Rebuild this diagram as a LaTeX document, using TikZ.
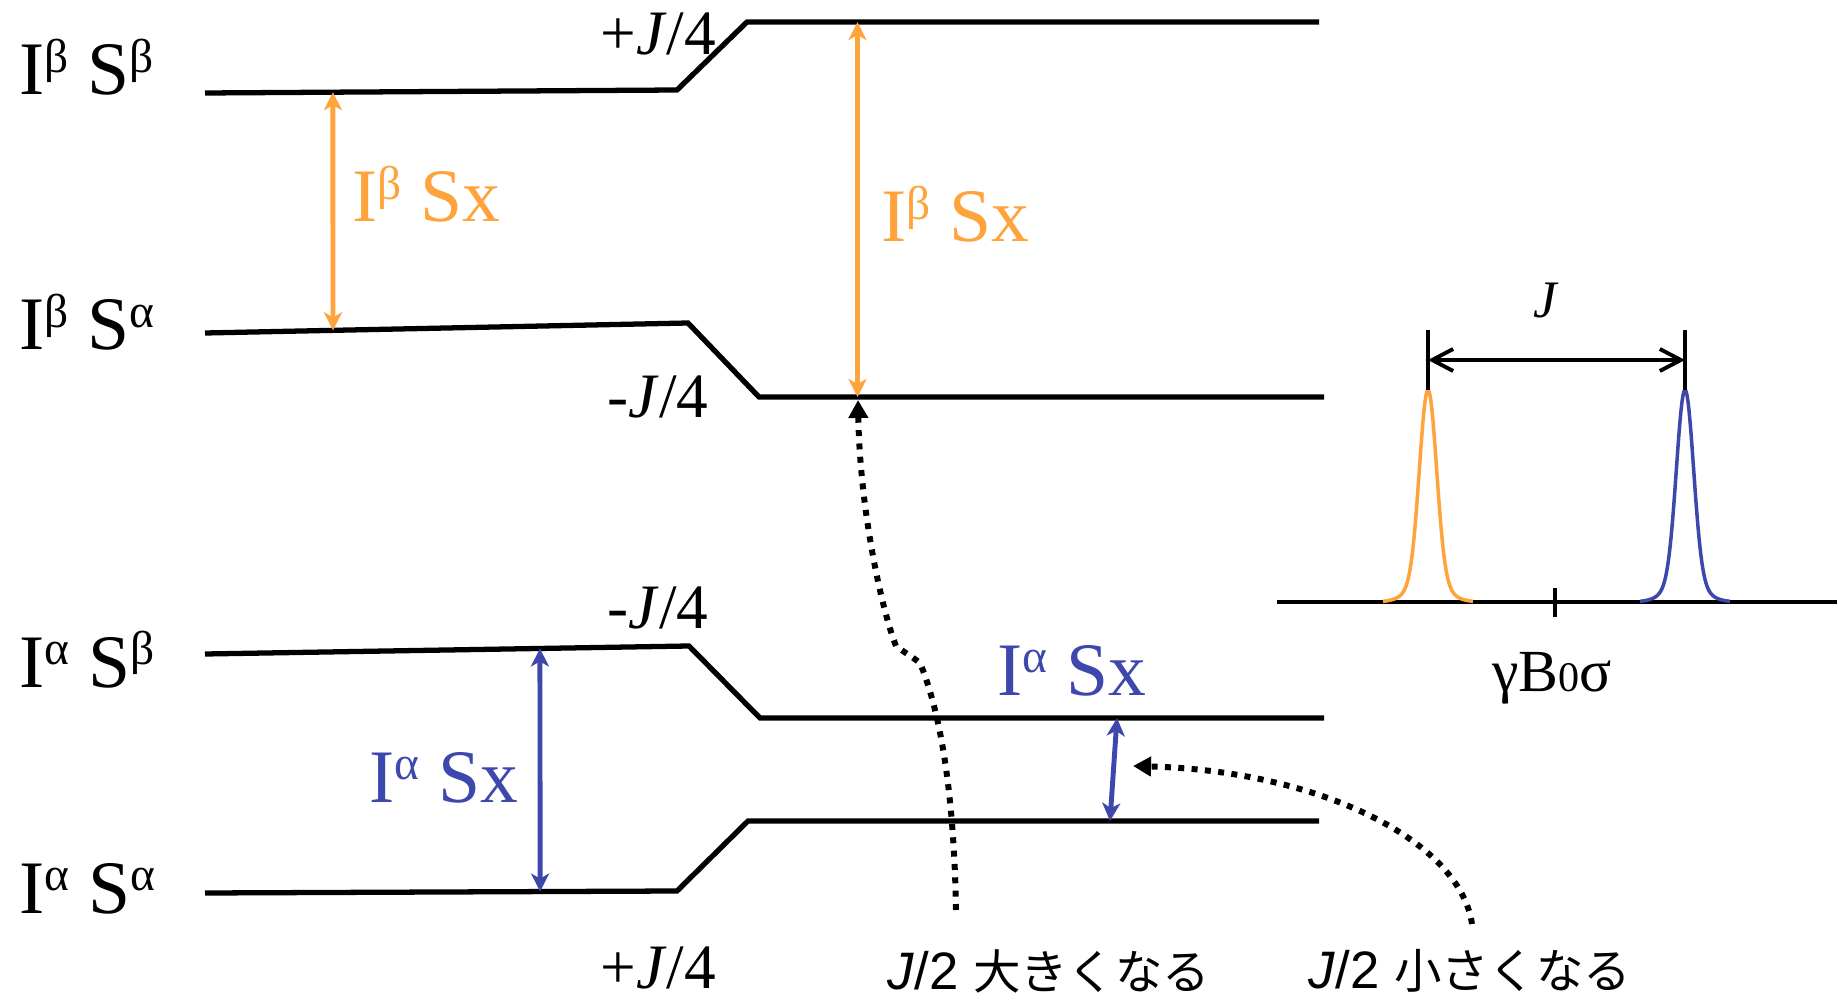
\documentclass[tikz,border=0pt]{standalone}
\usepackage{fontspec}
\setmainfont{Liberation Serif}
\setsansfont{Liberation Sans}
\newfontfamily\jpfont{Noto Sans CJK JP}
\usetikzlibrary{arrows.meta, calc}
\definecolor{SxOrange}{HTML}{FFA33D}
\definecolor{SxBlue}{HTML}{3E47AB}
\newcommand{\up}[1]{\raisebox{0.3em}{\fontsize{13.5}{13.5}\selectfont #1}}
\tikzset{
  energy/.style={line width=1.5pt},
  lvlabel/.style={anchor=base west, inner sep=0pt, font=\fontsize{21.5}{24}\selectfont},
  shiftlabel/.style={anchor=base west, inner sep=0pt, font=\fontsize{18}{20}\selectfont},
  sxorange/.style={lvlabel, text=SxOrange},
  sxblue/.style={lvlabel, text=SxBlue},
  orangearrow/.style={{Stealth[length=1.8mm, width=1.8mm, inset=0.5mm]}-{Stealth[length=1.8mm, width=1.8mm, inset=0.5mm]}, line width=1.4pt, draw=SxOrange},
  bluearrow/.style={{Stealth[length=1.8mm, width=1.8mm, inset=0.5mm]}-{Stealth[length=1.8mm, width=1.8mm, inset=0.5mm]}, line width=1.4pt, draw=SxBlue},
  dotarrow/.style={-{Triangle[length=1.8mm, width=1.9mm]}, line width=1.7pt, dash pattern=on 1.7pt off 2.1pt},
  jpnote/.style={inner sep=0pt, font=\sffamily\fontsize{15}{18}\selectfont},
  peakline/.style={line width=1pt},
  dimarrow/.style={{Straight Barb[length=2.1mm, width=2.2mm]}-{Straight Barb[length=2.1mm, width=2.2mm]}, line width=1.1pt}
}

\begin{document}
\begin{tikzpicture}
\useasboundingbox (0,0) rectangle (18.38,10.01);

% energy levels
\coordinate (bb0) at (2.05,9.08); \coordinate (bb1) at (6.77,9.11);
\coordinate (bb2) at (7.47,9.79); \coordinate (bb3) at (13.19,9.79);
\coordinate (ba0) at (2.05,6.68); \coordinate (ba1) at (6.88,6.78);
\coordinate (ba2) at (7.59,6.04); \coordinate (ba3) at (13.24,6.04);
\coordinate (ab0) at (2.05,3.47); \coordinate (ab1) at (6.89,3.55);
\coordinate (ab2) at (7.60,2.83); \coordinate (ab3) at (13.24,2.83);
\coordinate (aa0) at (2.05,1.08); \coordinate (aa1) at (6.77,1.10);
\coordinate (aa2) at (7.48,1.80); \coordinate (aa3) at (13.19,1.80);
\draw[energy] (bb0) -- (bb1) -- (bb2) -- (bb3);
\draw[energy] (ba0) -- (ba1) -- (ba2) -- (ba3);
\draw[energy] (ab0) -- (ab1) -- (ab2) -- (ab3);
\draw[energy] (aa0) -- (aa1) -- (aa2) -- (aa3);

\node[lvlabel] (nbb) at (0.19,9.06) {I\up{β} S\up{β}};
\node[lvlabel] (nba) at (0.19,6.51) {I\up{β} S\up{α}};
\node[lvlabel] (nab) at (0.19,3.14) {I\up{α} S\up{β}};
\node[lvlabel] (naa) at (0.19,0.88) {I\up{α} S\up{α}};

\node[shiftlabel] (sh1) at (6.00,9.46) {+\textit{J}/4};
\node[shiftlabel] (sh2) at (6.07,5.83) {-\textit{J}/4};
\node[shiftlabel] (sh3) at (6.07,3.73) {-\textit{J}/4};
\node[shiftlabel] (sh4) at (6.00,0.13) {+\textit{J}/4};

% transitions
\coordinate (or1t) at ($(bb0)!0.271!(bb1)$);
\coordinate (or1b) at ($(ba0)!0.265!(ba1)$);
\coordinate (or2t) at (8.575,9.79);
\coordinate (or2b) at (8.575,6.04);
\draw[orangearrow] (or1t) -- (or1b);
\draw[orangearrow] (or2t) -- (or2b);
\node[sxorange] (sxb1) at (3.52,7.79) {I\up{β} Sx};
\node[sxorange] (sxb2) at (8.81,7.59) {I\up{β} Sx};

\coordinate (bl1t) at ($(ab0)!0.692!(ab1)$);
\coordinate (bl1b) at ($(aa0)!0.71!(aa1)$);
\coordinate (bl2t) at (11.17,2.83);
\coordinate (bl2b) at (11.10,1.80);
\draw[bluearrow] (bl1t) -- (bl1b);
\draw[bluearrow] (bl2t) -- (bl2b);
\node[sxblue] (sxa1) at (3.69,1.99) {I\up{α} Sx};
\node[sxblue] (sxa2) at (9.97,3.06) {I\up{α} Sx};

% J/2 notes
\node[jpnote] (big) at (10.49,0.30) {\textit{J}/2 {\jpfont\fontsize{13.5}{16}\selectfont 大きくなる}};
\node[jpnote] (small) at (14.70,0.30) {\textit{J}/2 {\jpfont\fontsize{13.5}{16}\selectfont 小さくなる}};
\coordinate (up0) at (9.56,0.91);
\coordinate (up1) at (8.58,6.01);
\draw[dotarrow] (up0) .. controls (9.54,2.1) and (9.40,2.9) .. (9.20,3.38)
  .. controls (9.10,3.46) and (9.02,3.50) .. (8.96,3.55)
  .. controls (8.82,3.90) and (8.60,4.90) .. (up1);
\coordinate (dn0) at (14.72,0.77);
\coordinate (dn1) at (11.33,2.35);
\draw[dotarrow] (dn0) .. controls (14.6,1.6) and (13.2,2.3) .. (dn1);

% spectrum
\coordinate (ax0) at (12.77,3.99); \coordinate (ax1) at (18.37,3.99);
\draw[line width=1.1pt] (ax0) -- (ax1);
\draw[line width=1.1pt] (15.55,3.84) -- (15.55,4.13);
\draw[peakline, SxOrange] plot[domain=-0.45:0.45, samples=91]
  ({14.28+\x}, {3.99+2.12*(0.9*exp(-min(\x*\x/0.01445,9))+0.1*exp(-min(\x*\x/0.0578,9)))});
\draw[peakline, SxBlue] plot[domain=-0.45:0.45, samples=91]
  ({16.85+\x}, {3.99+2.12*(0.9*exp(-min(\x*\x/0.01445,9))+0.1*exp(-min(\x*\x/0.0578,9)))});
\coordinate (pk1) at (14.28,6.11); \coordinate (pk1t) at (14.28,6.71);
\coordinate (pk2) at (16.85,6.11); \coordinate (pk2t) at (16.85,6.71);
\draw[line width=0.9pt] (pk1) -- (pk1t);
\draw[line width=0.9pt] (pk2) -- (pk2t);
\draw[dimarrow] ($(pk1)!0.5!(pk1t)$) -- ($(pk2)!0.5!(pk2t)$);
\node[font=\fontsize{15}{18}\selectfont] (jlab) at (15.46,7.01) {\textit{J}};
\node[font=\fontsize{17}{20}\selectfont, anchor=base, inner sep=0pt] (axlab) at (15.52,3.09) {γB{\fontsize{12}{12}\selectfont 0}σ};
\end{tikzpicture}
\end{document}
